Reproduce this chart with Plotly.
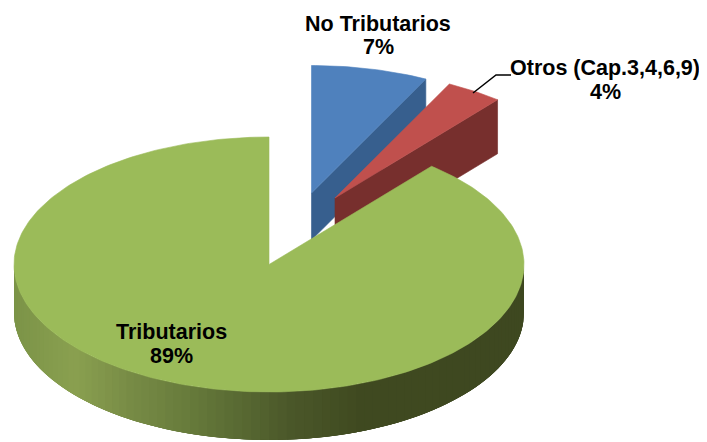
import math
import numpy as np
import plotly.graph_objects as go

categories = ["No Tributarios", "Otros (Cap.3,4,6,9)", "Tributarios"]
values = [7.4, 3.6, 89.0]
top_colors = ["#4f81bd", "#c0504d", "#9bbb59"]
side_colors = ["#375f8e", "#772f2d", "#3f4a20"]

W, H = 707, 442
BODY = 8  # the page's default body margin offsets the plot
RX, RY, DEPTH = 255, 127.5, 48
centers = [(311.5, 193), (335, 198), (269, 264.5)]
side_depth = [47, 54, 48]

grad_x = [14, 75, 130, 200, 290, 360, 524]
grad_rgb = [(124, 148, 72), (138, 160, 80), (120, 140, 70), (100, 120, 58),
            (75, 88, 42), (64, 74, 32), (62, 72, 32)]


def pt(c, deg, dz=0):
    a = math.radians(deg)
    return c[0] + RX * math.sin(a), c[1] - RY * math.cos(a) + dz


def poly(points, color, lw=0.6):
    xs, ys = zip(*points)
    return go.Scatter(x=list(xs) + [xs[0]], y=list(ys) + [ys[0]], mode="lines",
                      fill="toself", fillcolor=color,
                      line=dict(color=color, width=lw), hoverinfo="skip",
                      showlegend=False)


fig = go.Figure()
angles = np.cumsum([0] + values) * 3.6

# radial cut faces of the two exploded slices, then their top faces
for i in (0, 1):
    c, end = centers[i], angles[i + 1]
    fig.add_trace(poly([c, pt(c, end), pt(c, end, side_depth[i]), (c[0], c[1] + side_depth[i])],
                       side_colors[i]))
    arc = [pt(c, a) for a in np.linspace(angles[i], end, 30)]
    fig.add_trace(poly([c] + arc, top_colors[i]))

# green rim wall: painted right to left, each band running on under the next
c = centers[2]
steps = np.linspace(90, 270, 91)
for a0, a1 in zip(steps[:-1], steps[1:]):
    mx = pt(c, (a0 + a1) / 2)[0]
    rgb = [int(np.interp(mx, grad_x, [g[k] for g in grad_rgb])) for k in range(3)]
    far = np.linspace(a0, 270, 40) if a1 < 270 else np.array([a0, a1])
    near = [x for x in far if x <= a1 + 6] + [min(a1 + 6, 270)]
    top = [pt(c, a) for a in near]
    bottom = [pt(c, a, DEPTH) for a in reversed(near)]
    fig.add_trace(poly(top + bottom, "rgb(%d,%d,%d)" % tuple(rgb), lw=0))

# green top face
arc = [pt(c, a) for a in np.linspace(angles[2], 360, 300)]
fig.add_trace(poly([c] + arc, top_colors[2]))

labels = [
    (378, 23.5, 47, categories[0], values[0]),
    (605, 68, 92, categories[1], values[1]),
    (171, 332, 356, categories[2], values[2]),
]
for x, y1, y2, name, val in labels:
    for y, t in ((y1, name), (y2, f"{round(val)}%")):
        fig.add_annotation(x=x, y=y, text=f"<b>{t}</b>", showarrow=False,
                           font=dict(family="Liberation Sans", size=21.5, color="black"))

fig.add_trace(go.Scatter(x=[473, 496, 511], y=[93, 75, 75], mode="lines",
                         line=dict(color="black", width=1.5), hoverinfo="skip", showlegend=False))

fig.update_layout(width=W - BODY, height=H - BODY, margin=dict(l=0, r=0, t=0, b=0),
                  paper_bgcolor="white", plot_bgcolor="white", showlegend=False,
                  xaxis=dict(range=[BODY, W], visible=False, fixedrange=True),
                  yaxis=dict(range=[H, BODY], visible=False, fixedrange=True))
fig.write_html("out.html", config={"displayModeBar": False})
